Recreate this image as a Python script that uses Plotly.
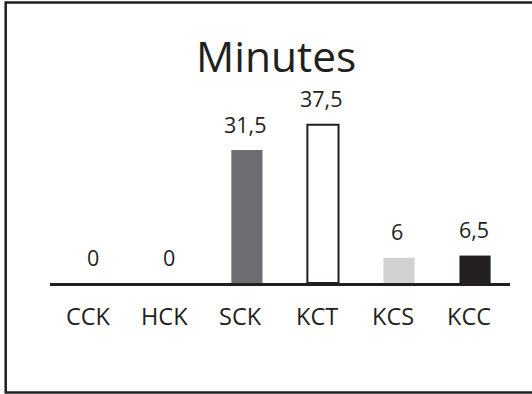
import plotly.graph_objects as go

# Data
categories = ["CCK", "HCK", "SCK", "KCT", "KCS", "KCC"]
minutes = [0, 0, 31.5, 37.5, 6, 6.5]
value_labels = ["0", "0", "31,5", "37,5", "6", "6,5"]
bar_colors = ["#6d6e71", "#6d6e71", "#6d6e71", "#ffffff", "#d1d2d4", "#231f20"]
title_text = "Minutes"

ink = "#231f20"
font_family = "'Open Sans', Lato, sans-serif"

fig = go.Figure()
fig.add_trace(go.Bar(
    x=categories,
    y=minutes,
    width=0.41,
    marker=dict(
        color=bar_colors,
        line=dict(color=[ink if c == "#ffffff" else c for c in bar_colors],
                  width=[2 if c == "#ffffff" else 0 for c in bar_colors]),
    ),
    hoverinfo="skip",
))

# Value labels above each bar
for cat, val, lab in zip(categories, minutes, value_labels):
    fig.add_annotation(
        x=cat, y=val, text=lab, showarrow=False,
        xref="x", yref="y", yanchor="middle", yshift=26, xshift=-1.5,
        font=dict(size=21.5, color=ink, family=font_family),
    )

# Category labels under the baseline
for cat in categories:
    fig.add_annotation(
        x=cat, y=0, text=cat, showarrow=False,
        xref="x", yref="paper", yanchor="middle", yshift=-33, xshift=-6,
        font=dict(size=23.5, color=ink, family=font_family),
    )

# Chart title
fig.add_annotation(
    x=0.4913, y=0.805, xref="paper", yref="paper",
    text=title_text, showarrow=False, xanchor="center", yanchor="middle",
    font=dict(size=42.5, color=ink, family=font_family),
)

# Frame around the chart
fig.add_shape(
    type="rect", xref="paper", yref="paper",
    x0=-0.0963, x1=1.08, y0=-0.387, y1=0.9912,
    line=dict(color=ink, width=2.5), fillcolor="rgba(0,0,0,0)", layer="below",
)

fig.update_layout(
    width=532, height=394,
    margin=dict(l=50, r=22, t=0, b=111),
    paper_bgcolor="white", plot_bgcolor="white",
    showlegend=False,
    xaxis=dict(
        range=[-0.59, 5.46],
        showline=True, linecolor=ink, linewidth=3,
        showgrid=False, zeroline=False, showticklabels=False, ticks="",
    ),
    yaxis=dict(
        range=[0, 67.06], visible=False, showgrid=False, zeroline=False,
    ),
)

fig.write_html("out.html")
